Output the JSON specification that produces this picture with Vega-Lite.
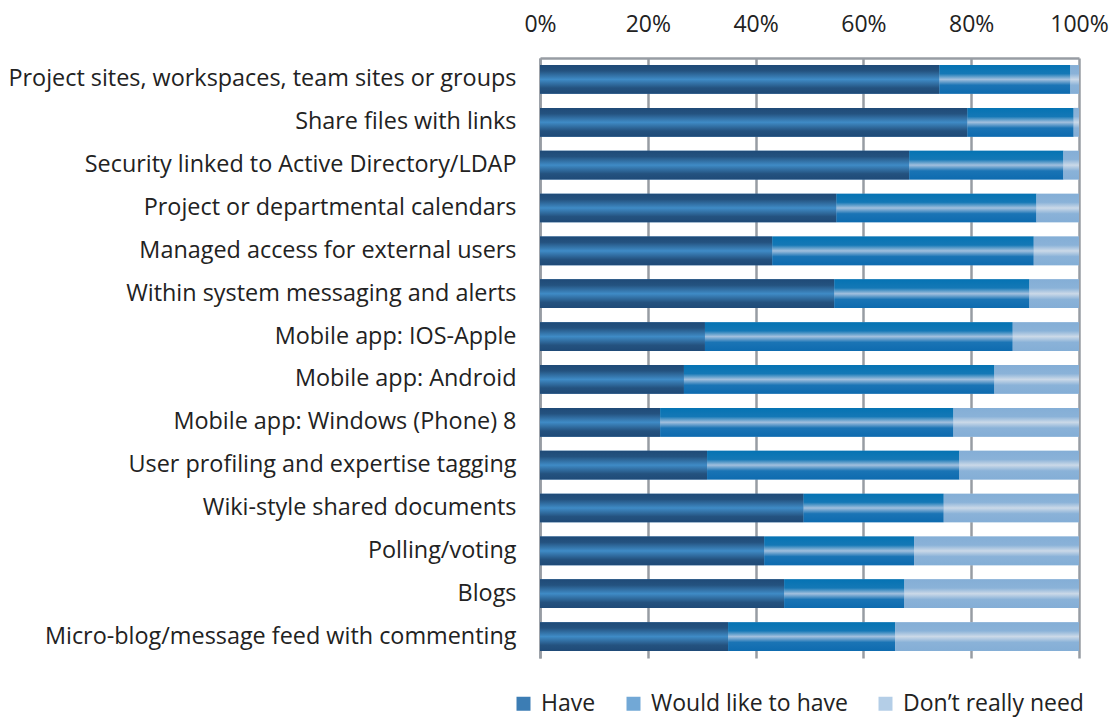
{
  "$schema": "https://vega.github.io/schema/vega-lite/v6.json",
  "width": 539,
  "height": 600,
  "autosize": {"type": "none"},
  "padding": {"left": 540, "top": 58, "right": 32, "bottom": 59},
  "background": "white",
  "config": {
    "view": {"stroke": null},
    "font": "Open Sans",
    "axis": {"labelFont": "Open Sans", "labelColor": "#222222", "labelFontSize": 23},
    "legend": {"labelFont": "Open Sans", "labelColor": "#222222", "labelFontSize": 23}
  },
  "data": {
    "values": [
      {"item": "Project sites, workspaces, team sites or groups", "series": "Have", "k": 1, "pct": 74.1},
      {"item": "Project sites, workspaces, team sites or groups", "series": "Would like to have", "k": 2, "pct": 24.3},
      {"item": "Project sites, workspaces, team sites or groups", "series": "Don’t really need", "k": 3, "pct": 1.6},
      {"item": "Share files with links", "series": "Have", "k": 1, "pct": 79.3},
      {"item": "Share files with links", "series": "Would like to have", "k": 2, "pct": 19.7},
      {"item": "Share files with links", "series": "Don’t really need", "k": 3, "pct": 1.0},
      {"item": "Security linked to Active Directory/LDAP", "series": "Have", "k": 1, "pct": 68.5},
      {"item": "Security linked to Active Directory/LDAP", "series": "Would like to have", "k": 2, "pct": 28.6},
      {"item": "Security linked to Active Directory/LDAP", "series": "Don’t really need", "k": 3, "pct": 2.9},
      {"item": "Project or departmental calendars", "series": "Have", "k": 1, "pct": 55.0},
      {"item": "Project or departmental calendars", "series": "Would like to have", "k": 2, "pct": 37.1},
      {"item": "Project or departmental calendars", "series": "Don’t really need", "k": 3, "pct": 7.9},
      {"item": "Managed access for external users", "series": "Have", "k": 1, "pct": 43.1},
      {"item": "Managed access for external users", "series": "Would like to have", "k": 2, "pct": 48.5},
      {"item": "Managed access for external users", "series": "Don’t really need", "k": 3, "pct": 8.4},
      {"item": "Within system messaging and alerts", "series": "Have", "k": 1, "pct": 54.6},
      {"item": "Within system messaging and alerts", "series": "Would like to have", "k": 2, "pct": 36.2},
      {"item": "Within system messaging and alerts", "series": "Don’t really need", "k": 3, "pct": 9.2},
      {"item": "Mobile app: IOS-Apple", "series": "Have", "k": 1, "pct": 30.6},
      {"item": "Mobile app: IOS-Apple", "series": "Would like to have", "k": 2, "pct": 57.1},
      {"item": "Mobile app: IOS-Apple", "series": "Don’t really need", "k": 3, "pct": 12.3},
      {"item": "Mobile app: Android", "series": "Have", "k": 1, "pct": 26.7},
      {"item": "Mobile app: Android", "series": "Would like to have", "k": 2, "pct": 57.6},
      {"item": "Mobile app: Android", "series": "Don’t really need", "k": 3, "pct": 15.7},
      {"item": "Mobile app: Windows (Phone) 8", "series": "Have", "k": 1, "pct": 22.3},
      {"item": "Mobile app: Windows (Phone) 8", "series": "Would like to have", "k": 2, "pct": 54.4},
      {"item": "Mobile app: Windows (Phone) 8", "series": "Don’t really need", "k": 3, "pct": 23.3},
      {"item": "User profiling and expertise tagging", "series": "Have", "k": 1, "pct": 31.0},
      {"item": "User profiling and expertise tagging", "series": "Would like to have", "k": 2, "pct": 46.8},
      {"item": "User profiling and expertise tagging", "series": "Don’t really need", "k": 3, "pct": 22.2},
      {"item": "Wiki-style shared documents", "series": "Have", "k": 1, "pct": 48.9},
      {"item": "Wiki-style shared documents", "series": "Would like to have", "k": 2, "pct": 26.0},
      {"item": "Wiki-style shared documents", "series": "Don’t really need", "k": 3, "pct": 25.1},
      {"item": "Polling/voting", "series": "Have", "k": 1, "pct": 41.6},
      {"item": "Polling/voting", "series": "Would like to have", "k": 2, "pct": 27.8},
      {"item": "Polling/voting", "series": "Don’t really need", "k": 3, "pct": 30.6},
      {"item": "Blogs", "series": "Have", "k": 1, "pct": 45.3},
      {"item": "Blogs", "series": "Would like to have", "k": 2, "pct": 22.3},
      {"item": "Blogs", "series": "Don’t really need", "k": 3, "pct": 32.4},
      {"item": "Micro-blog/message feed with commenting", "series": "Have", "k": 1, "pct": 34.9},
      {"item": "Micro-blog/message feed with commenting", "series": "Would like to have", "k": 2, "pct": 31.0},
      {"item": "Micro-blog/message feed with commenting", "series": "Don’t really need", "k": 3, "pct": 34.1}
    ]
  },
  "transform": [
    {"stack": "pct", "groupby": ["item"], "as": ["v0", "v1"], "offset": "normalize", "sort": [{"field": "k", "order": "ascending"}]}
  ],
  "encoding": {
    "y": {
      "field": "item",
      "type": "nominal",
      "sort": ["Project sites, workspaces, team sites or groups", "Share files with links", "Security linked to Active Directory/LDAP", "Project or departmental calendars", "Managed access for external users", "Within system messaging and alerts", "Mobile app: IOS-Apple", "Mobile app: Android", "Mobile app: Windows (Phone) 8", "User profiling and expertise tagging", "Wiki-style shared documents", "Polling/voting", "Blogs", "Micro-blog/message feed with commenting"],
      "scale": {"paddingInner": 0.33, "paddingOuter": 0.165},
      "axis": {"title": null, "ticks": false, "grid": false, "domainColor": "#979ca3", "domainWidth": 2.5, "labelPadding": 24, "labelLimit": 0, "labelFontSize": 23.4}
    },
    "x": {
      "field": "v0",
      "type": "quantitative",
      "scale": {"domain": [0, 1], "nice": false},
      "axis": {"orient": "top", "title": null, "format": ".0%", "values": [0, 0.2, 0.4, 0.6, 0.8, 1], "ticks": false, "grid": true, "gridColor": "#979ca3", "gridWidth": 2.5, "gridOpacity": 1, "domainColor": "#979ca3", "domainWidth": 2.5, "labelPadding": 22, "labelFlush": false, "labelOverlap": false}
    },
    "x2": {"field": "v1"}
  },
  "layer": [
    {
      "mark": {"type": "bar"},
      "encoding": {
        "color": {
          "field": "series",
          "type": "nominal",
          "scale": {"domain": ["Have", "Would like to have", "Don’t really need"], "range": ["#3c7db4", "#72a8d6", "#b4cee7"]},
          "legend": {"title": null, "orient": "none", "direction": "horizontal", "legendX": -28, "legendY": 634, "symbolType": "square", "symbolSize": 196, "symbolStrokeWidth": 0, "labelOffset": 6, "columnPadding": 26, "labelLimit": 0}
        }
      }
    },
    {
      "transform": [{"filter": "datum.series === 'Have'"}],
      "mark": {"type": "bar", "fill": {"gradient": "linear", "x1": 0, "y1": 0, "x2": 0, "y2": 1, "stops": [
        {"offset": 0, "color": "#1f4a77"},
        {"offset": 0.2, "color": "#24527f"},
        {"offset": 0.5, "color": "#3f8bc6"},
        {"offset": 0.8, "color": "#24527f"},
        {"offset": 1, "color": "#1f4a77"}
      ]}}
    },
    {
      "transform": [{"filter": "datum.series === 'Would like to have'"}],
      "mark": {"type": "bar", "fill": {"gradient": "linear", "x1": 0, "y1": 0, "x2": 0, "y2": 1, "stops": [
        {"offset": 0, "color": "#0573b3"},
        {"offset": 0.3, "color": "#1478b6"},
        {"offset": 0.5, "color": "#a2c0de"},
        {"offset": 0.7, "color": "#1a74b5"},
        {"offset": 1, "color": "#0e6baf"}
      ]}}
    },
    {
      "transform": [{"filter": "datum.series === 'Don’t really need'"}],
      "mark": {"type": "bar", "fill": {"gradient": "linear", "x1": 0, "y1": 0, "x2": 0, "y2": 1, "stops": [
        {"offset": 0, "color": "#84aed6"},
        {"offset": 0.3, "color": "#8ab2d8"},
        {"offset": 0.5, "color": "#cbd9e8"},
        {"offset": 0.7, "color": "#8ab2d8"},
        {"offset": 1, "color": "#84aed6"}
      ]}}
    }
  ]
}
